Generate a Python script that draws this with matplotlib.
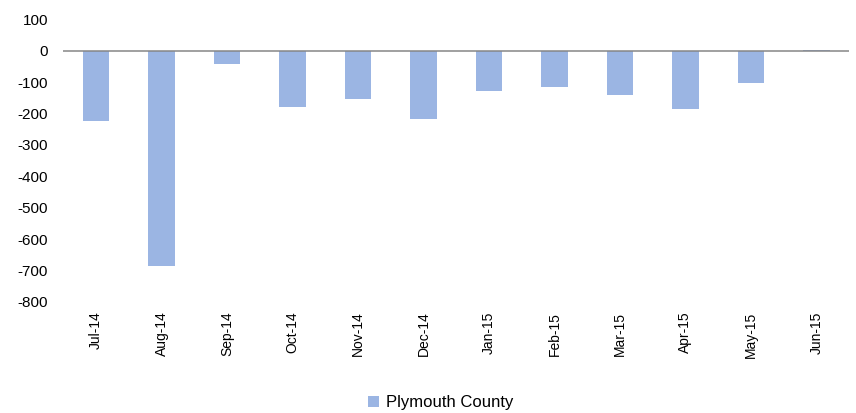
"""
Plymouth County monthly change, Jul-14 to Jun-15, as a bar chart.
Output: out.png
"""
import matplotlib.pyplot as plt

months = ["Jul-14", "Aug-14", "Sep-14", "Oct-14", "Nov-14", "Dec-14",
          "Jan-15", "Feb-15", "Mar-15", "Apr-15", "May-15", "Jun-15"]
values = [-223, -685, -43, -180, -154, -216, -129, -115, -140, -184, -104, 4]
series_name = "Plymouth County"
y_ticks = [100, 0, -100, -200, -300, -400, -500, -600, -700, -800]

BAR_COLOR = "#9bb5e3"
FONT = ["Liberation Sans", "DejaVu Sans"]


def main():
    plt.rcParams["font.family"] = FONT
    fig = plt.figure(figsize=(8.56, 4.13), dpi=100)
    ax = fig.add_axes([0.074, 0.269, 0.918, 0.684])

    x = range(len(months))
    ax.bar(x, values, width=0.4, color=BAR_COLOR, label=series_name, zorder=2)
    ax.axhline(0, color="#868686", lw=1.1, zorder=3)

    ax.set_xlim(-0.5, len(months) - 0.5)
    ax.set_ylim(-800, 100)
    ax.set_yticks(y_ticks)
    ax.set_yticklabels([str(v) for v in y_ticks])
    ax.set_xticks(list(x))
    ax.set_xticklabels(months, rotation=90)

    ax.tick_params(axis="y", length=0, pad=11, labelsize=11)
    ax.tick_params(axis="x", length=0, pad=7, labelsize=10)
    for s in ax.spines.values():
        s.set_visible(False)

    fig.legend(loc="lower center", bbox_to_anchor=(0.515, -0.03), frameon=False,
               fontsize=12, handlelength=0.65, handleheight=0.65,
               handletextpad=0.4)

    fig.savefig("out.png", dpi=100)
    plt.close(fig)


if __name__ == "__main__":
    main()
